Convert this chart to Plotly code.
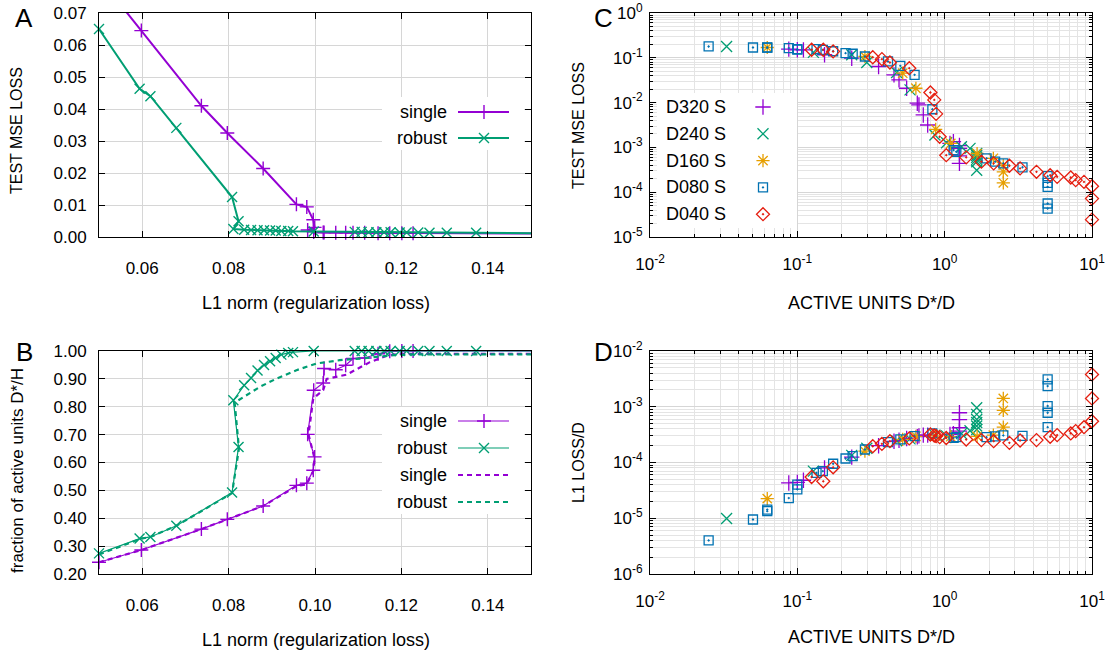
import plotly.graph_objects as go

W, H = 1113, 657

# ---- panels A / B : sweep over the L1 penalty ----
single_l1 = [0.0500, 0.0598, 0.0737, 0.0797, 0.0880, 0.0957, 0.0981, 0.0996, 0.0999, 0.0983, 0.0997,
             0.1019, 0.1021, 0.1048, 0.1071, 0.1088, 0.1115, 0.1146, 0.1173, 0.1201, 0.1227, 0.1580]
single_mse = [0.0810, 0.0645, 0.0410, 0.0325, 0.0214, 0.0102, 0.0094, 0.0054, 0.0030, 0.0022, 0.0016,
              0.0014, 0.0014, 0.0013, 0.0013, 0.0013, 0.0013, 0.0012, 0.0012, 0.0012, 0.0012, 0.0010]
single_frac = [0.242, 0.286, 0.361, 0.396, 0.444, 0.518, 0.526, 0.572, 0.620, 0.701, 0.859,
               0.885, 0.937, 0.933, 0.949, 0.973, 0.975, 0.990, 0.999, 1.000, 1.000, 1.000]

robust_l1 = [0.0500, 0.0594, 0.0619, 0.0679, 0.0808, 0.0823, 0.0811, 0.0836, 0.0852, 0.0867, 0.0882,
             0.0896, 0.0909, 0.0922, 0.0938, 0.0949, 0.0997, 0.1092, 0.1108, 0.1124, 0.1142, 0.1160,
             0.1175, 0.1196, 0.1212, 0.1239, 0.1265, 0.1305, 0.1373, 0.1600]
robust_mse = [0.0650, 0.0463, 0.0440, 0.0341, 0.0125, 0.0049, 0.0025, 0.0023, 0.0022, 0.0021, 0.0021,
              0.0020, 0.0020, 0.0019, 0.0019, 0.0018, 0.0017, 0.0016, 0.0016, 0.0015, 0.0015, 0.0015,
              0.0015, 0.0014, 0.0014, 0.0014, 0.0013, 0.0013, 0.0013, 0.0011]
robust_frac = [0.274, 0.327, 0.333, 0.373, 0.492, 0.656, 0.823, 0.877, 0.903, 0.930, 0.950,
               0.963, 0.975, 0.987, 0.993, 0.996, 1.0, 1.0, 1.0, 1.0, 1.0, 1.0,
               1.0, 1.0, 1.0, 1.0, 1.0, 1.0, 1.0, 1.0]

# dashed curves (averaged runs)
single_mean_l1 = [0.0500, 0.0598, 0.0737, 0.0797, 0.0880, 0.0957, 0.0981, 0.0996, 0.0999, 0.0985,
                  0.0996, 0.1019, 0.1027, 0.1073, 0.1104, 0.1127, 0.1166, 0.1196, 0.1600]
single_mean_frac = [0.242, 0.286, 0.361, 0.396, 0.444, 0.515, 0.522, 0.570, 0.615, 0.700,
                    0.830, 0.860, 0.900, 0.915, 0.940, 0.960, 0.983, 0.990, 0.990]
robust_mean_l1 = [0.0500, 0.0598, 0.0619, 0.0679, 0.0808, 0.0824, 0.0814, 0.0841, 0.0872, 0.0911,
                  0.0957, 0.1003, 0.1057, 0.1104, 0.1150, 0.1189, 0.1220, 0.1600]
robust_mean_frac = [0.270, 0.327, 0.333, 0.373, 0.490, 0.650, 0.815, 0.841, 0.871, 0.901,
                    0.931, 0.955, 0.967, 0.973, 0.981, 0.986, 0.988, 0.988]

# ---- panels C / D : active units vs losses ----
d320_units = [0.0875, 0.100, 0.110, 0.153, 0.234, 0.356, 0.453, 0.490, 0.552, 0.652, 0.669, 0.716,
              0.767, 1.087, 1.146, 1.260, 1.260, 1.260, 1.260]
d320_mse = [0.156, 0.151, 0.150, 0.117, 0.098, 0.064, 0.0416, 0.0322, 0.0209, 0.0097, 0.0089, 0.0053,
            0.00316, 0.00123, 0.00134, 0.00110, 0.00095, 0.00065, 0.00044]
d320_l1 = [4.3e-5, 4.4e-5, 4.8e-5, 8.0e-5, 1.25e-4, 2.0e-4, 2.4e-4, 2.5e-4, 2.7e-4, 2.9e-4, 3.0e-4, 3.1e-4,
           3.1e-4, 3.2e-4, 3.3e-4, 3.66e-4, 4.2e-4, 5.9e-4, 7.8e-4]

d240_units = [0.0331, 0.1285, 0.234, 0.296, 0.472, 0.582, 0.859, 1.03, 1.30, 1.486,
              1.65, 1.65, 1.65, 1.65, 1.65, 1.65]
d240_mse = [0.179, 0.132, 0.117, 0.0787, 0.047, 0.0192, 0.00189, 0.00127, 0.00103, 9.5e-4,
            7.3e-4, 6.6e-4, 6.0e-4, 5.4e-4, 4.8e-4, 3.1e-4]
d240_l1 = [9.9e-6, 7.0e-5, 1.34e-4, 1.8e-4, 2.45e-4, 2.65e-4, 3.1e-4, 3.0e-4, 3.3e-4, 3.7e-4,
           3.9e-4, 4.5e-4, 5.2e-4, 5.9e-4, 7.3e-4, 9.6e-4]

d160_units = [0.0625, 0.2875, 0.519, 0.638, 0.869, 1.10, 1.66, 2.14, 2.50, 2.50, 2.50]
d160_mse = [0.170, 0.107, 0.0454, 0.0209, 0.00253, 0.00123, 7.3e-4, 5.7e-4, 4.0e-4, 2.85e-4, 1.62e-4]
d160_l1 = [2.25e-5, 1.6e-4, 2.6e-4, 2.95e-4, 3.0e-4, 2.9e-4, 2.95e-4, 3.1e-4, 4.3e-4, 8.6e-4, 1.41e-3]

d080_units = [0.025, 0.050, 0.0625, 0.0625, 0.0875, 0.100, 0.100, 0.135, 0.149, 0.175,
              0.2125, 0.2375, 0.2875, 0.4125, 0.500, 0.625, 0.825, 1.15, 1.20, 1.925,
              2.20, 2.50, 3.375, 5.0, 5.0, 5.0, 5.0, 5.0]
d080_mse = [0.179, 0.170, 0.170, 0.168, 0.165, 0.156, 0.152, 0.156, 0.150, 0.140,
            0.127, 0.123, 0.107, 0.0828, 0.0662, 0.0416, 0.0071, 8.7e-4, 8.0e-4, 5.7e-4,
            4.8e-4, 4.4e-4, 3.6e-4, 2.28e-4, 1.62e-4, 1.32e-4, 5.6e-5, 4.3e-5]
d080_l1 = [4.0e-6, 9.5e-6, 1.43e-5, 1.34e-5, 2.3e-5, 4.0e-5, 3.3e-5, 6.5e-5, 7.0e-5, 9.5e-5,
           1.18e-4, 1.30e-4, 1.71e-4, 2.32e-4, 2.59e-4, 2.97e-4, 3.32e-4, 2.77e-4, 2.85e-4, 2.85e-4,
           2.95e-4, 3.06e-4, 3.0e-4, 3.1e-3, 2.35e-3, 1.03e-3, 7.8e-4, 4.3e-4]

d040_units = [0.125, 0.150, 0.175, 0.325, 0.375, 0.425, 0.575, 0.800, 0.850, 0.875,
              0.925, 1.025, 1.40, 1.775, 2.15, 2.75, 3.25, 4.20, 5.20, 5.80,
              7.175, 7.75, 8.825, 10.0, 10.0, 10.0]
d040_mse = [0.151, 0.151, 0.139, 0.103, 0.0933, 0.0787, 0.0587, 0.0168, 0.0115, 0.0056,
            0.00173, 6.7e-4, 6.0e-4, 4.8e-4, 4.4e-4, 3.9e-4, 3.4e-4, 2.85e-4, 2.40e-4, 2.2e-4,
            2.13e-4, 1.86e-4, 1.70e-4, 1.36e-4, 7.2e-5, 2.44e-5]
d040_l1 = [5.5e-5, 4.6e-5, 8.2e-5, 1.96e-4, 2.16e-4, 2.41e-4, 2.70e-4, 3.18e-4, 3.05e-4, 2.97e-4,
           2.85e-4, 2.75e-4, 2.59e-4, 2.52e-4, 2.41e-4, 2.25e-4, 2.48e-4, 2.52e-4, 2.89e-4, 3.10e-4,
           3.32e-4, 3.66e-4, 4.3e-4, 5.5e-4, 1.41e-3, 3.8e-3]

PURPLE = "#9400d3"
GREEN = "#009e73"
ORANGE = "#e69f00"
BLUE = "#0072b2"
RED = "#e51e10"
FONT = "Liberation Sans, Arial, sans-serif"


def px(x, y):
    # pixel position -> paper fraction
    return x / W, 1 - y / H


fig = go.Figure()


def sweep(xs, ys, color, symbol, width, xa, ya, xmax, ymax, dash="solid", markers=True):
    fig.add_trace(go.Scatter(x=xs, y=ys, mode="lines", line=dict(color=color, width=width, dash=dash),
                             xaxis=xa, yaxis=ya, showlegend=False, hoverinfo="skip"))
    if markers:
        keep = [(a, b) for a, b in zip(xs, ys) if a <= xmax and b <= ymax]
        fig.add_trace(go.Scatter(x=[k[0] for k in keep], y=[k[1] for k in keep], mode="markers",
                                 marker=dict(symbol=symbol, size=10, color=color,
                                             line=dict(color=color, width=1.4)),
                                 cliponaxis=False, xaxis=xa, yaxis=ya, showlegend=False))


# A
sweep(single_l1, single_mse, PURPLE, "cross-thin-open", 2, "x", "y", 0.15, 0.07)
sweep(robust_l1, robust_mse, GREEN, "x-thin-open", 2, "x", "y", 0.15, 0.07)
# B
sweep(single_l1, single_frac, PURPLE, "cross-thin-open", 1.2, "x2", "y2", 0.15, 1.0)
sweep(robust_l1, robust_frac, GREEN, "x-thin-open", 1.2, "x2", "y2", 0.15, 1.0)
sweep(single_mean_l1, single_mean_frac, PURPLE, None, 2.2, "x2", "y2", 0.15, 1.0, dash="5px,4px", markers=False)
sweep(robust_mean_l1, robust_mean_frac, GREEN, None, 2.2, "x2", "y2", 0.15, 1.0, dash="5px,4px", markers=False)

scatter_series = [
    ("D320 S", d320_units, d320_mse, d320_l1, PURPLE, "cross-thin-open", 11),
    ("D240 S", d240_units, d240_mse, d240_l1, GREEN, "x-thin-open", 11),
    ("D160 S", d160_units, d160_mse, d160_l1, ORANGE, "asterisk-open", 11),
    ("D080 S", d080_units, d080_mse, d080_l1, BLUE, "square-open-dot", 9),
    ("D040 S", d040_units, d040_mse, d040_l1, RED, "diamond-open-dot", 10),
]
for name, u, m, l, color, symbol, size in scatter_series:
    mk = dict(symbol=symbol, size=size, color=color, line=dict(color=color, width=1.3))
    fig.add_trace(go.Scatter(x=u, y=m, mode="markers", marker=mk, cliponaxis=False,
                             xaxis="x3", yaxis="y3", name=name, showlegend=False))
    fig.add_trace(go.Scatter(x=u, y=l, mode="markers", marker=mk, cliponaxis=False,
                             xaxis="x4", yaxis="y4", name=name, showlegend=False))

# panel geometry in pixels
left_x = (99, 531)
right_x = (650, 1092)
top_y = (13, 237)
bot_y = (351, 574)


def dom_x(p):
    return [p[0] / W, p[1] / W]


def dom_y(p):
    return [1 - p[1] / H, 1 - p[0] / H]


axis_common = dict(showline=True, linecolor="black", linewidth=1, mirror="ticks", ticks="inside",
                   ticklen=6, tickcolor="black", showgrid=True, gridcolor="#d6d6d6", gridwidth=1,
                   zeroline=False, automargin=False,
                   tickfont=dict(size=17, color="black", family=FONT))
log_minor = dict(ticks="inside", ticklen=3, tickcolor="black", showgrid=True, gridcolor="#e4e4e4",
                 dtick="D1")
log_x = dict(type="log", range=[-2, 1], tickvals=[0.01, 0.1, 1, 10],
             ticktext=["10<sup>-2</sup>", "10<sup>-1</sup>", "10<sup>0</sup>", "10<sup>1</sup>"],
             minor=log_minor, ticklabelstandoff=12)

fig.update_layout(
    width=W, height=H, margin=dict(l=0, r=0, t=0, b=0, autoexpand=False),
    paper_bgcolor="white", plot_bgcolor="rgba(0,0,0,0)",
    font=dict(family=FONT, size=17, color="black"),
    xaxis=dict(axis_common, domain=dom_x(left_x), anchor="y", range=[0.05, 0.15],
               tickvals=[0.06, 0.08, 0.10, 0.12, 0.14], ticktext=["0.06", "0.08", "0.1", "0.12", "0.14"],
               ticklabelstandoff=16),
    yaxis=dict(axis_common, domain=dom_y(top_y), anchor="x", range=[0, 0.07], dtick=0.01,
               tickformat=".2f", ticklabelstandoff=8),
    xaxis2=dict(axis_common, domain=dom_x(left_x), anchor="y2", range=[0.05, 0.15],
                tickvals=[0.06, 0.08, 0.10, 0.12, 0.14], tickformat=".2f", ticklabelstandoff=16),
    yaxis2=dict(axis_common, domain=dom_y(bot_y), anchor="x2", range=[0.2, 1.0], tick0=0.2, dtick=0.1,
                tickformat=".2f", ticklabelstandoff=8),
    xaxis3=dict(axis_common, **log_x, domain=dom_x(right_x), anchor="y3"),
    yaxis3=dict(axis_common, type="log", range=[-5, 0], domain=dom_y(top_y), anchor="x3",
                tickvals=[1e-5, 1e-4, 1e-3, 1e-2, 1e-1, 1],
                ticktext=["10<sup>-5</sup>", "10<sup>-4</sup>", "10<sup>-3</sup>", "10<sup>-2</sup>",
                          "10<sup>-1</sup>", "10<sup>0</sup>"],
                minor=log_minor, ticklabelstandoff=3),
    xaxis4=dict(axis_common, **log_x, domain=dom_x(right_x), anchor="y4"),
    yaxis4=dict(axis_common, type="log", range=[-6, -2], domain=dom_y(bot_y), anchor="x4",
                tickvals=[1e-6, 1e-5, 1e-4, 1e-3, 1e-2],
                ticktext=["10<sup>-6</sup>", "10<sup>-5</sup>", "10<sup>-4</sup>", "10<sup>-3</sup>",
                          "10<sup>-2</sup>"],
                minor=log_minor, ticklabelstandoff=3),
    # pixel overlay used for the key boxes and samples
    xaxis5=dict(domain=[0, 1], range=[0, W], visible=False, fixedrange=True, anchor="y5",
                automargin=False),
    yaxis5=dict(domain=[0, 1], range=[H, 0], visible=False, fixedrange=True, anchor="x5",
                automargin=False),
)


# white boxes behind the keys (cover the grid, stop short of the frame ticks)
def key_box(x0, x1, y0, y1):
    fig.add_trace(go.Scatter(x=[x0, x1, x1, x0, x0], y=[y0, y0, y1, y1, y0], mode="lines",
                             fill="toself", fillcolor="white", line=dict(width=0),
                             xaxis="x5", yaxis="y5", showlegend=False, hoverinfo="skip"))


key_box(382, 524, 97, 150)
key_box(382, 524, 407, 514)
key_box(657, 797, 93, 228)

annotations = []


def text(x, y, s, size=18, anchor="center", angle=0):
    ax, ay = px(x, y)
    annotations.append(dict(x=ax, y=ay, xref="paper", yref="paper", text=s, showarrow=False,
                            xanchor=anchor, yanchor="middle", textangle=angle,
                            font=dict(size=size, family=FONT, color="black")))


def line_key(y, label, color, symbol, width, dash):
    text(449, y, label, anchor="right")
    fig.add_trace(go.Scatter(x=[458, 509], y=[y, y], mode="lines", xaxis="x5", yaxis="y5",
                             line=dict(color=color, width=width, dash=dash), showlegend=False,
                             hoverinfo="skip"))
    if symbol:
        fig.add_trace(go.Scatter(x=[484], y=[y], mode="markers", xaxis="x5", yaxis="y5",
                                 marker=dict(symbol=symbol, size=10, color=color,
                                             line=dict(color=color, width=1.4)),
                                 showlegend=False, hoverinfo="skip"))


line_key(112, "single", PURPLE, "cross-thin-open", 2, "solid")
line_key(138, "robust", GREEN, "x-thin-open", 2, "solid")
line_key(421, "single", PURPLE, "cross-thin-open", 1.2, "solid")
line_key(448, "robust", GREEN, "x-thin-open", 1.2, "solid")
line_key(475, "single", PURPLE, None, 2.2, "5px,4px")
line_key(502, "robust", GREEN, None, 2.2, "5px,4px")

for i, (name, u, m, l, color, symbol, size) in enumerate(scatter_series):
    ky = 107 + i * 26.8
    text(664, ky, name, anchor="left")
    fig.add_trace(go.Scatter(x=[763], y=[ky], mode="markers", xaxis="x5", yaxis="y5",
                             marker=dict(symbol=symbol, size=size, color=color,
                                         line=dict(color=color, width=1.3)),
                             showlegend=False, hoverinfo="skip"))

# axis titles and panel letters
text(316, 303, "L1 norm (regularization loss)")
text(316, 640, "L1 norm (regularization loss)")
text(871, 303, "ACTIVE UNITS D*/D")
text(871, 637, "ACTIVE UNITS D*/D")
text(17, 131, "TEST MSE LOSS", size=16, angle=-90)
text(17, 471, "fraction of active units D*/H", size=17, angle=-90)
text(578, 125, "TEST MSE LOSS", size=16, angle=-90)
text(578, 462, "L1 LOSS/D", size=16, angle=-90)
text(24, 18, "A", size=26)
text(24, 352, "B", size=26)
text(603, 18, "C", size=26)
text(603, 352, "D", size=26)

fig.update_layout(annotations=annotations)
# the page's default 8px body margin would shift the whole figure
fig.write_html("out.html", config={"displayModeBar": False},
               post_script="document.body.style.margin='0px';")
